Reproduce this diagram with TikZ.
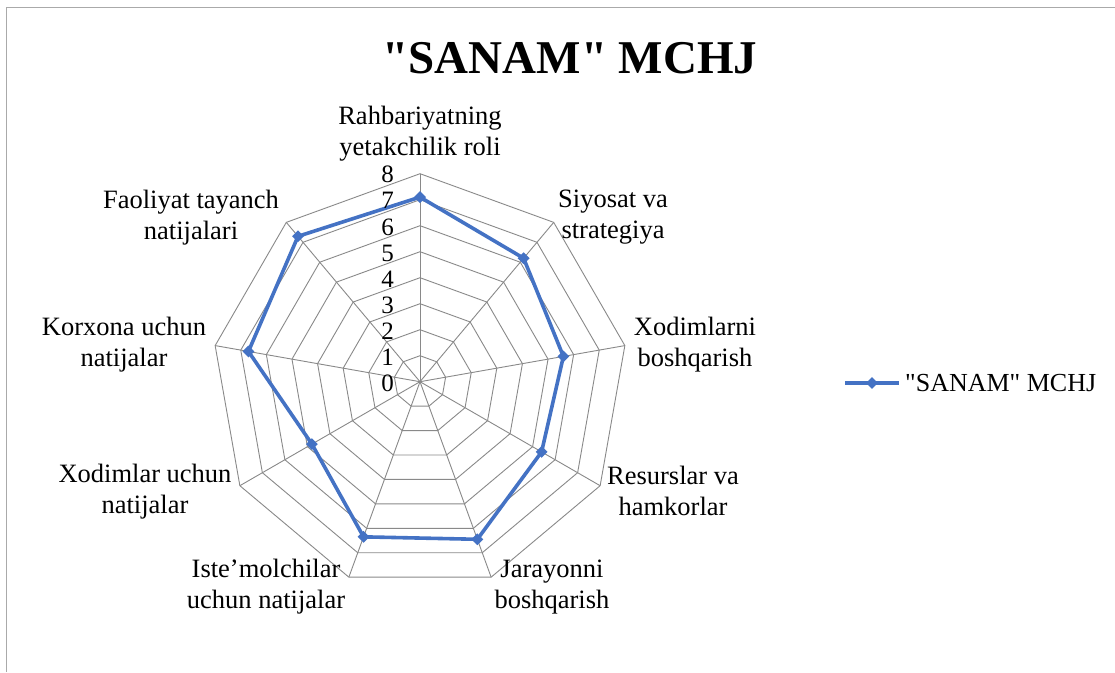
\documentclass[tikz,border=0pt]{standalone}
\usepackage{fontspec}
\setmainfont{Liberation Serif}[Ligatures=TeXOff]
\usetikzlibrary{shapes.geometric}
\definecolor{gridgray}{RGB}{137,137,137}
\definecolor{serblue}{RGB}{68,114,196}
\definecolor{framegray}{RGB}{170,170,170}
\begin{document}
\begin{tikzpicture}[x=1pt,y=-1pt,
  gridline/.style={draw=gridgray, line width=0.9pt},
  series/.style={draw=serblue, line width=3.6pt, line join=round},
  datamark/.style={diamond, fill=serblue, inner sep=0pt, minimum width=12pt, minimum height=12pt},
  axlabel/.style={align=center, font=\fontsize{26.5}{31}\selectfont, inner sep=0pt},
  ticklabel/.style={anchor=east, font=\fontsize{25}{25}\selectfont, inner sep=0pt},
]
\useasboundingbox (0,0) rectangle (1115,672);
\fill[white] (0,0) rectangle (1115,672);
\draw[framegray, line width=1.2pt] (6.5,672) -- (6.5,7.5) -- (1115,7.5);

% title
\node[font=\fontsize{47}{47}\selectfont\bfseries, inner sep=0pt] (title) at (570,58) {"SANAM" MCHJ};

\begin{scope}[shift={(420,381.7)}]
  \coordinate (C) at (0,0);
  % grid polygons
  \foreach \l in {1,...,8}{
    \draw[gridline] (-90:{\l*26}) \foreach \k in {1,...,8}{ -- ({40*\k-90}:{\l*26})} -- cycle;
  }
  % spokes
  \foreach \k in {0,...,8}{
    \coordinate (s\k) at ({40*\k-90}:208);
    \draw[gridline] (C) -- (s\k);
  }
  % data
  \foreach \v [count=\k from 0] in {7.1,6.2,5.6,5.4,6.45,6.35,4.8,6.7,7.3}{
    \coordinate (p\k) at ({40*\k-90}:{\v*26});
  }
  \draw[series] (p0) -- (p1) -- (p2) -- (p3) -- (p4) -- (p5) -- (p6) -- (p7) -- (p8) -- cycle;
  \foreach \k in {0,...,8}{
    \node[datamark] (m\k) at (p\k) {};
  }
\end{scope}

% tick labels
\foreach \l in {0,...,8}{
  \node[ticklabel] (t\l) at (394,{383.5-26.1*\l}) {\l};
}

% axis labels
\node[axlabel] (a0) at (420,134) {Rahbariyatning\\yetakchilik roli};
\node[axlabel] (a1) at (613,217) {Siyosat va\\strategiya};
\node[axlabel] (a2) at (695,345) {Xodimlarni\\boshqarish};
\node[axlabel] (a3) at (673,491) {Resurslar va\\hamkorlar};
\node[axlabel] (a4) at (552,587) {Jarayonni\\boshqarish};
\node[axlabel] (a5) at (266,587) {Iste’molchilar\\uchun natijalar};
\node[axlabel] (a6) at (145,492) {Xodimlar uchun\\natijalar};
\node[axlabel] (a7) at (124,345) {Korxona uchun\\natijalar};
\node[axlabel] (a8) at (191,218) {Faoliyat tayanch\\natijalari};

% legend
\coordinate (la) at (845,383);
\coordinate (lb) at (899,383);
\draw[series] (la) -- (lb);
\node[datamark] (lm) at (872,383) {};
\node[anchor=west, inner sep=0pt, font=\fontsize{26}{26}\selectfont] (lt) at (905,383) {"SANAM" MCHJ};
\end{tikzpicture}
\end{document}
